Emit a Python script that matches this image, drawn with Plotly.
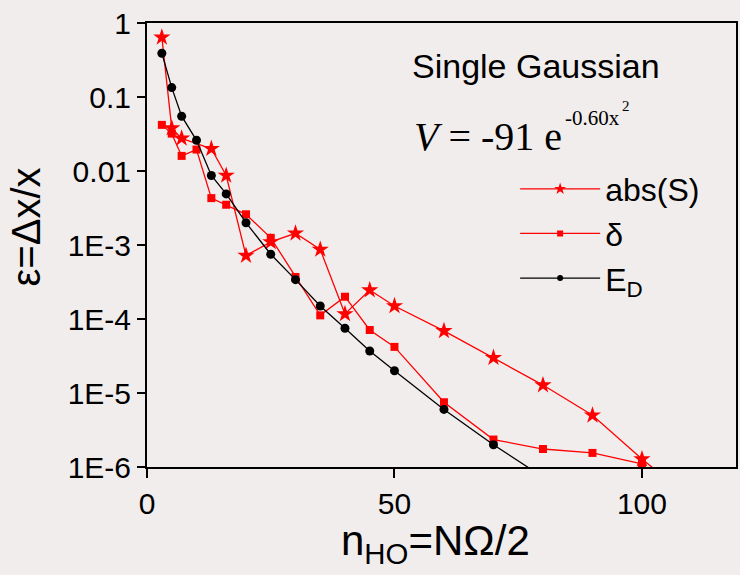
import plotly.graph_objects as go

# ---- data ----
n_S = [3, 5, 7, 13, 16, 20, 25, 30, 35, 40, 45, 50, 60, 70, 80, 90, 100, 110]
abs_S = [0.64, 0.038, 0.0276, 0.020, 0.0087, 7.2e-4, 1.1e-3, 1.44e-3, 8.7e-4, 1.17e-4,
         2.46e-4, 1.5e-4, 6.9e-5, 3.0e-5, 1.28e-5, 5.0e-6, 1.28e-6, 3.7e-7]

n_d = [3, 5, 7, 10, 13, 16, 20, 25, 30, 35, 40, 45, 50, 60, 70, 80, 90, 100]
delta = [0.042, 0.032, 0.016, 0.0195, 0.0043, 0.0035, 0.0026, 1.25e-3, 3.7e-4, 1.12e-4,
         2.0e-4, 7.1e-5, 4.2e-5, 7.5e-6, 2.35e-6, 1.75e-6, 1.55e-6, 1.1e-6]

n_E = [3, 5, 7, 10, 13, 16, 20, 25, 30, 35, 40, 45, 50, 60, 70, 80]
E_D = [0.39, 0.134, 0.055, 0.026, 0.0087, 0.0049, 0.002, 7.5e-4, 3.4e-4, 1.5e-4,
       7.5e-5, 3.7e-5, 2.0e-5, 6.0e-6, 2.0e-6, 7.3e-7]

series_names = ["abs(S)", "δ", "E<sub>D</sub>"]

y_tickvals = [1, 0.1, 0.01, 1e-3, 1e-4, 1e-5, 1e-6]
y_ticktext = ["1", "0.1", "0.01", "1E-3", "1E-4", "1E-5", "1E-6"]
x_tickvals = [0, 50, 100]
x_ticktext = ["0", "50", "100"]

BG = "#f1eded"
FONT = "Liberation Sans, Arial, sans-serif"
SERIF = "Liberation Serif, Times New Roman, serif"
RED = "#ff0000"

styles = [
    dict(color=RED, symbol="star", size=13, lsize=9),
    dict(color=RED, symbol="square", size=8, lsize=6),
    dict(color="#000000", symbol="circle", size=9, lsize=6),
]
data = [(n_S, abs_S), (n_d, delta), (n_E, E_D)]

fig = go.Figure()
for (xs, ys), st, nm in zip(data, styles, series_names):
    fig.add_trace(go.Scatter(x=xs, y=ys, name=nm, mode="lines+markers",
                             showlegend=False,
                             line=dict(color=st["color"], width=1.3),
                             marker=dict(symbol=st["symbol"], size=st["size"],
                                         color=st["color"])))
# legend entries (smaller symbols, as in the reference)
for st, nm in zip(styles, series_names):
    fig.add_trace(go.Scatter(x=[None], y=[None], name=nm, mode="lines+markers",
                             line=dict(color=st["color"], width=1.3),
                             marker=dict(symbol=st["symbol"], size=st["lsize"],
                                         color=st["color"]),
                             hoverinfo="skip"))

fig.update_layout(
    width=740, height=575,
    margin=dict(l=147, r=4, t=23, b=108),
    paper_bgcolor=BG, plot_bgcolor=BG,
    font=dict(family=FONT, color="black", size=30),
    showlegend=True,
    legend=dict(x=0.625, y=0.688, xanchor="left", yanchor="top",
                bgcolor="rgba(0,0,0,0)", font=dict(size=32, family=FONT),
                itemwidth=80, tracegroupgap=0),
    xaxis=dict(range=[0, 119], showgrid=False, zeroline=False, automargin=False,
               showline=True, linecolor="black", linewidth=2, mirror=True,
               tickmode="array", tickvals=x_tickvals, ticktext=x_ticktext,
               ticks="outside", ticklen=9, tickwidth=2, tickcolor="black",
               tickfont=dict(size=30)),
    yaxis=dict(type="log", range=[-6, 0], showgrid=False, zeroline=False,
               automargin=False,
               showline=True, linecolor="black", linewidth=2, mirror=True,
               tickmode="array", tickvals=y_tickvals, ticktext=y_ticktext,
               ticks="outside", ticklen=8, tickwidth=2, tickcolor="black",
               tickfont=dict(size=30)),
)

# axis titles
fig.add_annotation(text="ε=Δx/x", xref="paper", yref="paper",
                   x=-0.205, y=0.54, textangle=-90, showarrow=False,
                   xanchor="center", yanchor="middle",
                   font=dict(size=40, family=FONT))
fig.add_annotation(text="n<sub>HO</sub>=NΩ/2", xref="paper", yref="paper",
                   x=0.49, y=-0.172, showarrow=False,
                   xanchor="center", yanchor="middle",
                   font=dict(size=42, family=FONT))

# in-plot labels
fig.add_annotation(text="Single Gaussian", xref="paper", yref="paper",
                   x=0.447, y=0.903, showarrow=False, xanchor="left", yanchor="middle",
                   font=dict(size=34, family=FONT))
fig.add_annotation(text="<i>V</i> = -91 e", xref="paper", yref="paper",
                   x=0.45, y=0.745, showarrow=False, xanchor="left", yanchor="middle",
                   font=dict(size=40, family=SERIF))
fig.add_annotation(text="-0.60x", xref="paper", yref="paper",
                   x=0.706, y=0.787, showarrow=False, xanchor="left", yanchor="middle",
                   font=dict(size=21, family=SERIF))
fig.add_annotation(text="2", xref="paper", yref="paper",
                   x=0.803, y=0.812, showarrow=False, xanchor="left", yanchor="middle",
                   font=dict(size=15, family=SERIF))

fig.write_html(
    "out.html",
    config={"displayModeBar": False},
    post_script="document.body.style.margin='0';"
                "document.body.style.background='" + BG + "';",
)
